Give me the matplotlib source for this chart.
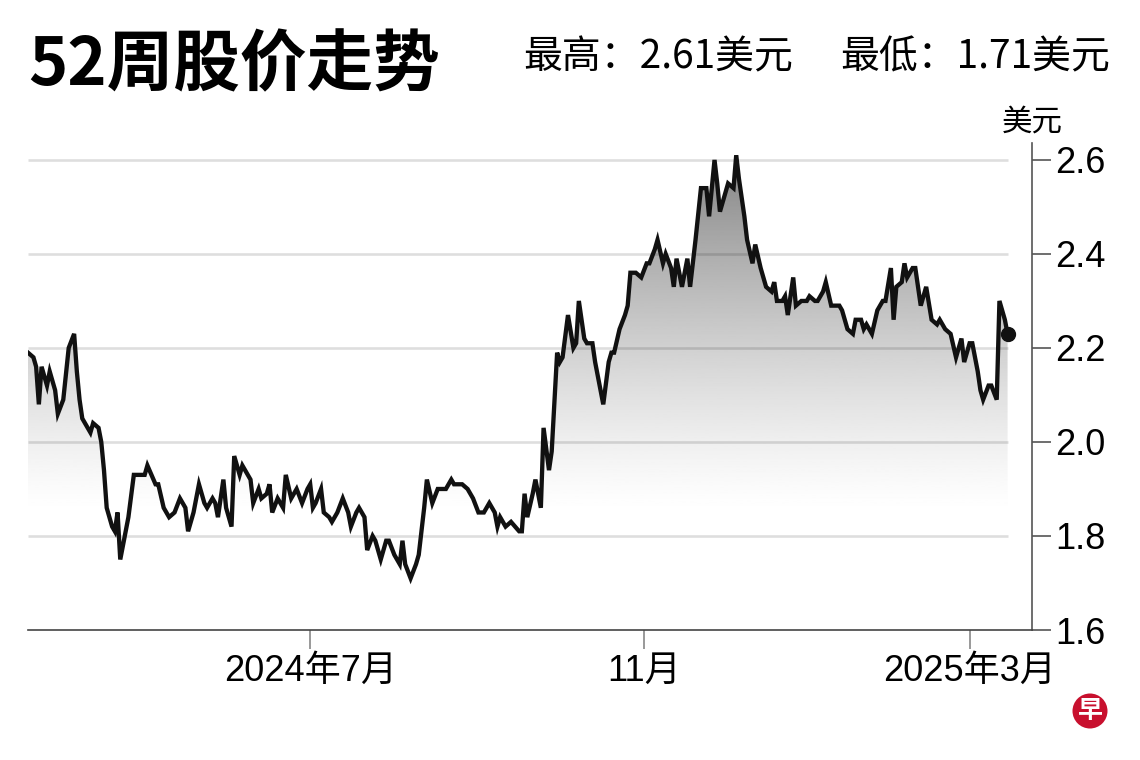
import numpy as np
import pandas as pd
import matplotlib
matplotlib.use("Agg")
import matplotlib.pyplot as plt
import matplotlib.dates as mdates

#Closing prices (USD)
dates = [
    "2024-03-19", "2024-03-21", "2024-03-22", "2024-03-23", "2024-03-24", "2024-03-26", "2024-03-27", "2024-03-29",
    "2024-03-30", "2024-04-01", "2024-04-03", "2024-04-05", "2024-04-06", "2024-04-07", "2024-04-08", "2024-04-11",
    "2024-04-12", "2024-04-14", "2024-04-15", "2024-04-16", "2024-04-17", "2024-04-19", "2024-04-20", "2024-04-21",
    "2024-04-22", "2024-04-24", "2024-04-25", "2024-04-27", "2024-05-01", "2024-05-02", "2024-05-05", "2024-05-06",
    "2024-05-08", "2024-05-10", "2024-05-12", "2024-05-14", "2024-05-16", "2024-05-17", "2024-05-19", "2024-05-21",
    "2024-05-23", "2024-05-24", "2024-05-26", "2024-05-27", "2024-05-28", "2024-05-30", "2024-05-31", "2024-06-02",
    "2024-06-03", "2024-06-05", "2024-06-06", "2024-06-07", "2024-06-09", "2024-06-10", "2024-06-12", "2024-06-13",
    "2024-06-15", "2024-06-16", "2024-06-17", "2024-06-19", "2024-06-21", "2024-06-22", "2024-06-24", "2024-06-25",
    "2024-06-26", "2024-06-28", "2024-06-30", "2024-07-01", "2024-07-02", "2024-07-03", "2024-07-05", "2024-07-06",
    "2024-07-08", "2024-07-09", "2024-07-11", "2024-07-13", "2024-07-15", "2024-07-16", "2024-07-18", "2024-07-19",
    "2024-07-21", "2024-07-22", "2024-07-24", "2024-07-25", "2024-07-27", "2024-07-29", "2024-07-30", "2024-08-01",
    "2024-08-03", "2024-08-04", "2024-08-05", "2024-08-07", "2024-08-09", "2024-08-10", "2024-08-12", "2024-08-13",
    "2024-08-15", "2024-08-17", "2024-08-20", "2024-08-22", "2024-08-23", "2024-08-26", "2024-08-28", "2024-08-30",
    "2024-09-01", "2024-09-03", "2024-09-05", "2024-09-07", "2024-09-08", "2024-09-09", "2024-09-11", "2024-09-13",
    "2024-09-16", "2024-09-17", "2024-09-18", "2024-09-19", "2024-09-21", "2024-09-22", "2024-09-24", "2024-09-25",
    "2024-09-27", "2024-09-28", "2024-09-30", "2024-10-01", "2024-10-02", "2024-10-04", "2024-10-06", "2024-10-07",
    "2024-10-08", "2024-10-10", "2024-10-11", "2024-10-13", "2024-10-14", "2024-10-17", "2024-10-19", "2024-10-20",
    "2024-10-21", "2024-10-23", "2024-10-25", "2024-10-26", "2024-10-27", "2024-10-29", "2024-10-31", "2024-11-02",
    "2024-11-03", "2024-11-05", "2024-11-06", "2024-11-08", "2024-11-09", "2024-11-11", "2024-11-12", "2024-11-13",
    "2024-11-15", "2024-11-17", "2024-11-18", "2024-11-20", "2024-11-22", "2024-11-24", "2024-11-25", "2024-11-27",
    "2024-11-28", "2024-11-29", "2024-12-01", "2024-12-02", "2024-12-04", "2024-12-05", "2024-12-06", "2024-12-08",
    "2024-12-09", "2024-12-11", "2024-12-12", "2024-12-14", "2024-12-16", "2024-12-18", "2024-12-19", "2024-12-20",
    "2024-12-22", "2024-12-23", "2024-12-24", "2024-12-26", "2024-12-27", "2024-12-29", "2024-12-31", "2025-01-01",
    "2025-01-03", "2025-01-04", "2025-01-06", "2025-01-07", "2025-01-09", "2025-01-12", "2025-01-13", "2025-01-15",
    "2025-01-17", "2025-01-18", "2025-01-20", "2025-01-21", "2025-01-22", "2025-01-24", "2025-01-26", "2025-01-28",
    "2025-01-29", "2025-01-31", "2025-02-01", "2025-02-02", "2025-02-04", "2025-02-05", "2025-02-06", "2025-02-08",
    "2025-02-09", "2025-02-11", "2025-02-13", "2025-02-15", "2025-02-17", "2025-02-18", "2025-02-20", "2025-02-22",
    "2025-02-24", "2025-02-26", "2025-02-27", "2025-03-01", "2025-03-02", "2025-03-04", "2025-03-05", "2025-03-06",
    "2025-03-08", "2025-03-09", "2025-03-11", "2025-03-12", "2025-03-14", "2025-03-15",
]
prices = [
    2.19, 2.18, 2.16, 2.08, 2.16, 2.12, 2.15, 2.11, 2.06, 2.09, 2.20, 2.23, 2.15, 2.09, 2.05, 2.02,
    2.04, 2.03, 2.00, 1.94, 1.86, 1.82, 1.81, 1.85, 1.75, 1.81, 1.84, 1.93, 1.93, 1.95, 1.91, 1.91,
    1.86, 1.84, 1.85, 1.88, 1.86, 1.81, 1.85, 1.91, 1.87, 1.86, 1.88, 1.87, 1.84, 1.92, 1.86, 1.82,
    1.97, 1.93, 1.95, 1.94, 1.92, 1.87, 1.90, 1.88, 1.89, 1.91, 1.85, 1.88, 1.86, 1.93, 1.88, 1.89,
    1.90, 1.87, 1.90, 1.91, 1.86, 1.87, 1.90, 1.85, 1.84, 1.83, 1.85, 1.88, 1.85, 1.82, 1.85, 1.86,
    1.84, 1.77, 1.80, 1.79, 1.75, 1.79, 1.79, 1.76, 1.74, 1.79, 1.74, 1.71, 1.74, 1.76, 1.86, 1.92,
    1.87, 1.90, 1.90, 1.92, 1.91, 1.91, 1.90, 1.88, 1.85, 1.85, 1.87, 1.85, 1.82, 1.84, 1.82, 1.83,
    1.81, 1.81, 1.89, 1.84, 1.89, 1.92, 1.86, 2.03, 1.94, 1.98, 2.19, 2.17, 2.18, 2.27, 2.20, 2.21,
    2.30, 2.22, 2.21, 2.21, 2.17, 2.08, 2.17, 2.19, 2.19, 2.24, 2.27, 2.29, 2.36, 2.36, 2.35, 2.38,
    2.38, 2.41, 2.43, 2.38, 2.40, 2.37, 2.33, 2.39, 2.33, 2.39, 2.33, 2.43, 2.54, 2.54, 2.48, 2.60,
    2.55, 2.49, 2.53, 2.55, 2.54, 2.61, 2.56, 2.48, 2.43, 2.38, 2.42, 2.37, 2.33, 2.32, 2.34, 2.30,
    2.30, 2.31, 2.27, 2.35, 2.29, 2.30, 2.30, 2.31, 2.30, 2.30, 2.32, 2.34, 2.29, 2.29, 2.28, 2.24,
    2.23, 2.26, 2.26, 2.24, 2.25, 2.23, 2.28, 2.30, 2.30, 2.37, 2.26, 2.33, 2.34, 2.38, 2.35, 2.37,
    2.37, 2.29, 2.33, 2.26, 2.25, 2.26, 2.24, 2.23, 2.18, 2.22, 2.17, 2.21, 2.21, 2.15, 2.11, 2.09,
    2.12, 2.12, 2.09, 2.30, 2.26, 2.23,
]

#Axis ticks and text
y_ticks = [1.6, 1.8, 2.0, 2.2, 2.4, 2.6]
y_labels = ["1.6", "1.8", "2.0", "2.2", "2.4", "2.6"]
grid_levels = [1.8, 2.0, 2.2, 2.4, 2.6]
x_ticks = ["2024-07-01", "2024-11-01", "2025-03-01"]
x_labels = ["2024年7月", "11月", "2025年3月"]
title = "52周股价走势"
high_text = "最高：2.61美元"
low_text = "最低：1.71美元"
unit = "美元"

d = pd.to_datetime(dates)
p = np.array(prices)

plt.rcParams["font.family"] = ["Liberation Sans", "Noto Sans CJK SC", "DejaVu Sans"]
cjk = ["Noto Sans CJK SC", "DejaVu Sans"]

fig = plt.figure(figsize=(11.4, 7.6), dpi=100)
ax = fig.add_axes([28 / 1140, 130 / 760, 1004 / 1140, 487 / 760])

x_left = pd.Timestamp("2024-03-19")
x_right = pd.Timestamp("2025-03-24")
y_bot, y_top = 1.6, 2.636
ax.set_xlim(x_left, x_right)
ax.set_ylim(y_bot, y_top)

#Grey gradient under the price line, dark at the top fading to white
yy = np.linspace(y_bot, y_top, 300)
shade = 1 - 0.47 * np.clip((yy - 1.85) / 0.75, 0, None) ** 1.25
shade = np.clip(shade, 0, 1)
img = ax.imshow(shade[:, None], extent=[mdates.date2num(d[0]), mdates.date2num(d[-1]), y_bot, y_top],
                aspect="auto", origin="lower", cmap="gray", vmin=0, vmax=1, zorder=1)
area = ax.fill_between(d, p, y_bot, color="none", lw=0)
img.set_clip_path(area.get_paths()[0], ax.transData)

#Horizontal grid lines up to the last trading day
ax.hlines(grid_levels, d[0], d[-1], color="black", alpha=0.13, lw=1.9, zorder=2)

#Price line and the latest price dot
ax.plot(d, p, color="#111111", lw=3.1, solid_joinstyle="miter", zorder=3)
ax.plot(d[-1:], p[-1:], "o", color="#111111", ms=10, zorder=4)

#Axes styling
for side in ["left", "top"]:
    ax.spines[side].set_visible(False)
ax.spines["right"].set_color("#555555")
ax.spines["right"].set_linewidth(1.2)
ax.spines["bottom"].set_color("#444444")
ax.spines["bottom"].set_linewidth(1.2)

ax.yaxis.tick_right()
ax.set_yticks(y_ticks)
ax.set_yticklabels(y_labels)
ax.tick_params(axis="y", direction="out", length=14, width=1.2, color="#555555", pad=3, labelsize=26)

ax.set_xticks(pd.to_datetime(x_ticks))
ax.set_xticklabels(x_labels)
ax.tick_params(axis="x", direction="out", length=13.5, width=1.2, color="#888888", pad=4, labelsize=26)
ax.patch.set_alpha(0)

#Title, high/low text and unit
fig.text(28 / 1140, 675 / 760, title, fontsize=48, fontweight="bold", family=cjk, va="baseline", ha="left")
fig.text(793 / 1140, 703 / 760, high_text, fontsize=28, family=cjk, va="center", ha="right")
fig.text(1110 / 1140, 703 / 760, low_text, fontsize=28, family=cjk, va="center", ha="right")
fig.text(1032 / 1140, 638 / 760, unit, fontsize=22, family=cjk, va="center", ha="center")

#Small red logo in the corner
fig.text(1090 / 1140, 49 / 760, "早", fontsize=18, fontweight="bold", color="white", family=cjk,
         ha="center", va="center",
         bbox=dict(boxstyle="circle,pad=0.2", fc="#c8102e", ec="none"))

fig.savefig("out.png", dpi=100, facecolor="white")
